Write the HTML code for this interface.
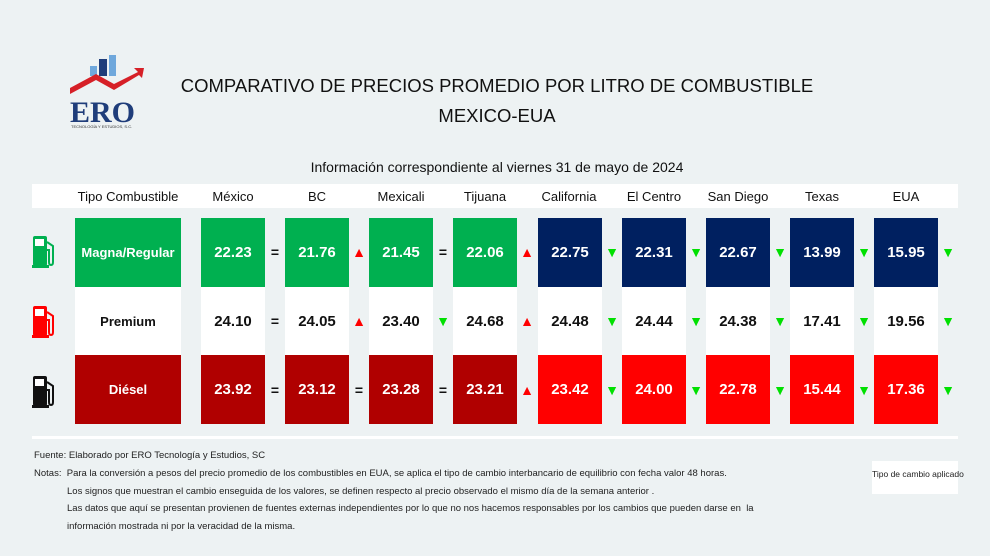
<!DOCTYPE html>
<html><head><meta charset="utf-8"><style>
*{margin:0;padding:0;box-sizing:border-box}
body{width:990px;height:556px;background:#edf2f3;font-family:"Liberation Sans",sans-serif;position:relative;overflow:hidden;color:#111}
.a{position:absolute}
.t{font-size:18.5px;text-align:center;width:700px;left:147px;color:#111}
.hdr{left:32px;top:184px;width:926px;height:24px;background:#fff}
.h{font-size:13px;text-align:center;top:189px;width:84px}
.c{width:64px;height:69px;display:flex;align-items:center;justify-content:center;font-weight:bold;font-size:15px}
.g{background:#00b050;color:#fff}.n{background:#002060;color:#fff}.w{background:#fff;color:#111}.dr{background:#b00000;color:#fff}.r{background:#ff0000;color:#fff}
.s{font-size:14px;width:16px;text-align:center;font-weight:bold}
.up{color:#ff0000}.dn{color:#00e000}
.f{font-size:9.5px;color:#222;white-space:nowrap}
</style></head><body>
<svg class="a" style="left:68px;top:54px" width="82" height="75">
<rect x="22" y="12" width="7" height="10" fill="#6fa8dc"/><rect x="31" y="5" width="8" height="17" fill="#1f3d7a"/><rect x="41" y="1" width="7" height="21" fill="#6fa8dc"/>
<path d="M2 34 L28 20 L46 30 L70 18 L66 14 L76 14 L74 24 L71 21 L46 36 L28 26 L2 40Z" fill="#d62027"/>
<text x="2" y="68" font-family="Liberation Serif" font-weight="bold" font-size="30" fill="#1f3d7a">ERO</text>
<text x="3" y="74" font-size="4" fill="#333">TECNOLOGÍA Y ESTUDIOS, S.C.</text>
</svg>
<div class="a t" style="top:75px">COMPARATIVO DE PRECIOS PROMEDIO POR LITRO DE COMBUSTIBLE</div>
<div class="a t" style="top:105px">MEXICO-EUA</div>
<div class="a" style="left:147px;width:700px;text-align:center;top:159px;font-size:14px">Información correspondiente al viernes 31 de mayo de 2024</div>
<div class="a hdr"></div>
<div class="a h" style="left:75px;width:106px">Tipo Combustible</div>
<div class="a h" style="left:191px">México</div><div class="a h" style="left:275px">BC</div><div class="a h" style="left:359px">Mexicali</div><div class="a h" style="left:443px">Tijuana</div><div class="a h" style="left:527px">California</div><div class="a h" style="left:612px">El Centro</div><div class="a h" style="left:696px">San Diego</div><div class="a h" style="left:780px">Texas</div><div class="a h" style="left:864px">EUA</div>
<svg class="a" style="left:32px;top:236px" width="28" height="180">
<g fill="#00b050"><rect x="1" y="0" width="14" height="30" rx="2"/><rect x="0" y="29" width="17" height="3"/><path d="M15 6 L21 10 L21 26 Q21 29 19 29 Q17 29 17 26 L17 14 L15 14" fill="none" stroke="#00b050" stroke-width="2"/></g>
<rect x="3" y="3" width="9" height="7" fill="#fff"/>
<g fill="#ff0000" transform="translate(0,70)"><rect x="1" y="0" width="14" height="30" rx="2"/><rect x="0" y="29" width="17" height="3"/><path d="M15 6 L21 10 L21 26 Q21 29 19 29 Q17 29 17 26 L17 14 L15 14" fill="none" stroke="#ff0000" stroke-width="2"/></g>
<rect x="3" y="73" width="9" height="7" fill="#fff"/>
<g fill="#111" transform="translate(0,140)"><rect x="1" y="0" width="14" height="30" rx="2"/><rect x="0" y="29" width="17" height="3"/><path d="M15 6 L21 10 L21 26 Q21 29 19 29 Q17 29 17 26 L17 14 L15 14" fill="none" stroke="#111" stroke-width="2"/></g>
<rect x="3" y="143" width="9" height="7" fill="#fff"/>
</svg>
<div class="a c g" style="left:75px;top:218px;width:106px;font-size:13px">Magna/Regular</div>
<div class="a c w" style="left:75px;top:287px;width:106px;font-size:13px">Premium</div>
<div class="a c dr" style="left:75px;top:355px;width:106px;font-size:13px">Diésel</div>
<div class="a c g" style="left:201px;top:218px">22.23</div><div class="a c g" style="left:285px;top:218px">21.76</div><div class="a c g" style="left:369px;top:218px">21.45</div><div class="a c g" style="left:453px;top:218px">22.06</div>
<div class="a c n" style="left:538px;top:218px">22.75</div><div class="a c n" style="left:622px;top:218px">22.31</div><div class="a c n" style="left:706px;top:218px">22.67</div><div class="a c n" style="left:790px;top:218px">13.99</div><div class="a c n" style="left:874px;top:218px">15.95</div>
<div class="a c w" style="left:201px;top:287px">24.10</div><div class="a c w" style="left:285px;top:287px">24.05</div><div class="a c w" style="left:369px;top:287px">23.40</div><div class="a c w" style="left:453px;top:287px">24.68</div>
<div class="a c w" style="left:538px;top:287px">24.48</div><div class="a c w" style="left:622px;top:287px">24.44</div><div class="a c w" style="left:706px;top:287px">24.38</div><div class="a c w" style="left:790px;top:287px">17.41</div><div class="a c w" style="left:874px;top:287px">19.56</div>
<div class="a c dr" style="left:201px;top:355px">23.92</div><div class="a c dr" style="left:285px;top:355px">23.12</div><div class="a c dr" style="left:369px;top:355px">23.28</div><div class="a c dr" style="left:453px;top:355px">23.21</div>
<div class="a c r" style="left:538px;top:355px">23.42</div><div class="a c r" style="left:622px;top:355px">24.00</div><div class="a c r" style="left:706px;top:355px">22.78</div><div class="a c r" style="left:790px;top:355px">15.44</div><div class="a c r" style="left:874px;top:355px">17.36</div>
<div class="a s" style="left:267px;top:244px">=</div><div class="a s up" style="left:351px;top:244px">▲</div><div class="a s" style="left:435px;top:244px">=</div><div class="a s up" style="left:519px;top:244px">▲</div><div class="a s dn" style="left:604px;top:244px">▼</div><div class="a s dn" style="left:688px;top:244px">▼</div><div class="a s dn" style="left:772px;top:244px">▼</div><div class="a s dn" style="left:856px;top:244px">▼</div><div class="a s dn" style="left:940px;top:244px">▼</div>
<div class="a s" style="left:267px;top:313px">=</div><div class="a s up" style="left:351px;top:313px">▲</div><div class="a s dn" style="left:435px;top:313px">▼</div><div class="a s up" style="left:519px;top:313px">▲</div><div class="a s dn" style="left:604px;top:313px">▼</div><div class="a s dn" style="left:688px;top:313px">▼</div><div class="a s dn" style="left:772px;top:313px">▼</div><div class="a s dn" style="left:856px;top:313px">▼</div><div class="a s dn" style="left:940px;top:313px">▼</div>
<div class="a s" style="left:267px;top:382px">=</div><div class="a s" style="left:351px;top:382px">=</div><div class="a s" style="left:435px;top:382px">=</div><div class="a s up" style="left:519px;top:382px">▲</div><div class="a s dn" style="left:604px;top:382px">▼</div><div class="a s dn" style="left:688px;top:382px">▼</div><div class="a s dn" style="left:772px;top:382px">▼</div><div class="a s dn" style="left:856px;top:382px">▼</div><div class="a s dn" style="left:940px;top:382px">▼</div>
<div class="a" style="left:32px;top:436px;width:926px;height:3px;background:#fff"></div>
<div class="a f" style="left:34px;top:450px">Fuente: Elaborado por ERO Tecnología y Estudios, SC</div>
<div class="a f" style="left:34px;top:468px">Notas:&nbsp; Para la conversión a pesos del precio promedio de los combustibles en EUA, se aplica el tipo de cambio interbancario de equilibrio con fecha valor 48 horas.</div>
<div class="a f" style="left:67px;top:486px">Los signos que muestran el cambio enseguida de los valores, se definen respecto al precio observado el mismo día de la semana anterior .</div>
<div class="a f" style="left:67px;top:503px">Las datos que aquí se presentan provienen de fuentes externas independientes por lo que no nos hacemos responsables por los cambios que pueden darse en&nbsp; la</div>
<div class="a f" style="left:67px;top:521px">información mostrada ni por la veracidad de la misma.</div>
<div class="a f" style="left:872px;top:461px;width:86px;height:33px;background:#fff;text-align:center;line-height:26px;font-size:8.5px">Tipo de cambio aplicado</div>
</body></html>
